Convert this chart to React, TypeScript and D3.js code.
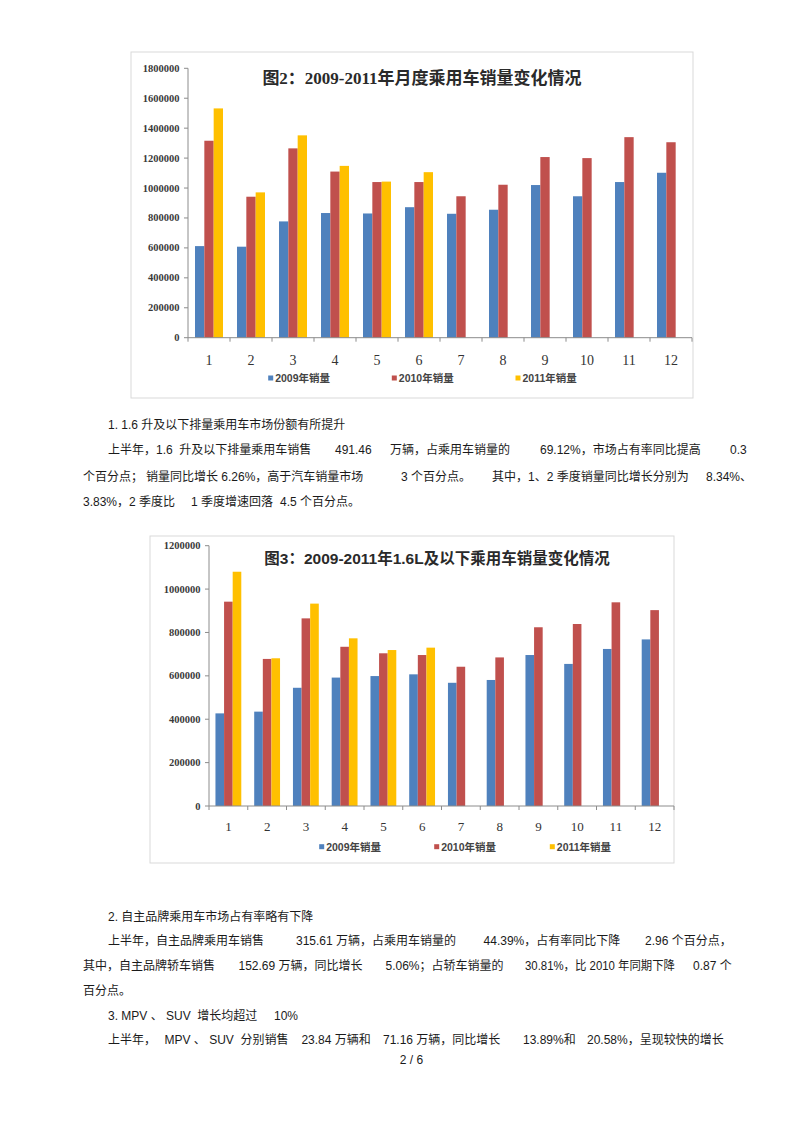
import React from 'react';
import * as d3 from 'd3';

// ---------- data ----------
const months = ['1', '2', '3', '4', '5', '6', '7', '8', '9', '10', '11', '12'];
const seriesNames = ['2009年销量', '2010年销量', '2011年销量'];
const seriesColors = ['#4F81BD', '#C0504D', '#FFC000'];

// 图2：月度乘用车销量
const total2009 = [612000, 608000, 777000, 833000, 830000, 872000, 828000, 855000, 1020000, 945000, 1040000, 1102000];
const total2010 = [1316000, 942000, 1265000, 1110000, 1040000, 1040000, 945000, 1022000, 1207000, 1200000, 1340000, 1306000];
const total2011 = [1532000, 971000, 1352000, 1148000, 1043000, 1106000];
const totalTicks = [0, 200000, 400000, 600000, 800000, 1000000, 1200000, 1400000, 1600000, 1800000];

// 图3：1.6L及以下乘用车销量
const small2009 = [427000, 435000, 545000, 592000, 599000, 607000, 568000, 581000, 696000, 655000, 724000, 768000];
const small2010 = [942000, 678000, 865000, 734000, 704000, 696000, 642000, 685000, 824000, 839000, 939000, 903000];
const small2011 = [1080000, 681000, 933000, 773000, 719000, 730000];
const smallTicks = [0, 200000, 400000, 600000, 800000, 1000000, 1200000];

const title2 = '图2：2009-2011年月度乘用车销量变化情况';
const title3 = '图3：2009-2011年1.6L及以下乘用车销量变化情况';

// ---------- body text ----------
type Seg = { t: string; x: number; w?: number };
type Line = { y: number; segs: Seg[] };

const para1: Line[] = [
  { y: 425, segs: [{ t: '1. 1.6 升及以下排量乘用车市场份额有所提升', x: 108 }] },
  {
    y: 450,
    segs: [
      { t: '上半年，1.6  升及以下排量乘用车销售', x: 108 },
      { t: '491.46', x: 335 },
      { t: '万辆，占乘用车销量的', x: 390 },
      { t: '69.12%，市场占有率同比提高', x: 540 },
      { t: '0.3', x: 730 },
    ],
  },
  {
    y: 477,
    segs: [
      { t: '个百分点；', x: 83 },
      { t: '销量同比增长 6.26%，高于汽车销量市场', x: 146 },
      { t: '3 个百分点。', x: 401 },
      { t: '其中，1、2 季度销量同比增长分别为', x: 492 },
      { t: '8.34%、', x: 706 },
    ],
  },
  {
    y: 502,
    segs: [
      { t: '3.83%，2 季度比', x: 83 },
      { t: '1 季度增速回落', x: 191 },
      { t: '4.5 个百分点。', x: 280 },
    ],
  },
];

const para2: Line[] = [
  { y: 916.7, segs: [{ t: '2. 自主品牌乘用车市场占有率略有下降', x: 108 }] },
  {
    y: 940.5,
    segs: [
      { t: '上半年，自主品牌乘用车销售', x: 108 },
      { t: '315.61 万辆，占乘用车销量的', x: 296 },
      { t: '44.39%，占有率同比下降', x: 483.6 },
      { t: '2.96 个百分点，', x: 645 },
    ],
  },
  {
    y: 965.5,
    segs: [
      { t: '其中，自主品牌轿车销售', x: 83 },
      { t: '152.69 万辆，同比增长', x: 238.5 },
      { t: '5.06%；占轿车销量的', x: 385.5 },
      { t: '30.81%，比 2010 年同期下降', x: 525, w: 150 },
      { t: '0.87 个', x: 693 },
    ],
  },
  { y: 991, segs: [{ t: '百分点。', x: 83 }] },
  {
    y: 1015.5,
    segs: [
      { t: '3. MPV 、 SUV  增长均超过', x: 108 },
      { t: '10%', x: 274 },
    ],
  },
  {
    y: 1040,
    segs: [
      { t: '上半年，', x: 108 },
      { t: 'MPV 、 SUV  分别销售', x: 164.5 },
      { t: '23.84 万辆和', x: 301.4 },
      { t: '71.16 万辆，同比增长', x: 383 },
      { t: '13.89%和', x: 523 },
      { t: '20.58%，呈现较快的增长', x: 587 },
    ],
  },
];

const bodyFont = "'Liberation Sans', 'Noto Sans CJK SC', sans-serif";

type ChartProps = {
  frame: [number, number, number, number];
  left: number;
  right: number;
  top: number;
  zero: number;
  yMax: number;
  ticks: number[];
  data: number[][];
  title: string;
  titleX: number;
  titleY: number;
  titleFont: string;
  titleSize: number;
  legendXs: number[];
  legendY: number;
  xLabelSize: number;
  xLabelDy: number;
};

function BarChart(p: ChartProps) {
  const x0 = d3
    .scaleBand<string>()
    .domain(months)
    .range([p.left, p.right])
    .paddingInner(1 / 3)
    .paddingOuter(1 / 6);
  const x1 = d3
    .scaleBand<string>()
    .domain(seriesNames)
    .range([0, x0.bandwidth()]);
  const y = d3.scaleLinear().domain([0, p.yMax]).range([p.zero, p.top]);
  const step = x0.step();
  const [fx0, fy0, fx1, fy1] = p.frame;
  return (
    <g>
      <rect x={fx0} y={fy0} width={fx1 - fx0} height={fy1 - fy0} fill="#fff" stroke="#d9d9d9" strokeWidth={1} />
      {/* bars */}
      {p.data.map((vals, si) =>
        vals.map((v, mi) => (
          <rect
            key={`${si}-${mi}`}
            x={(x0(months[mi]) as number) + (x1(seriesNames[si]) as number)}
            y={y(v)}
            width={x1.bandwidth()}
            height={p.zero - y(v)}
            fill={seriesColors[si]}
          />
        ))
      )}
      {/* y axis */}
      <line x1={p.left} x2={p.left} y1={y(p.yMax)} y2={p.zero} stroke="#8c8c8c" strokeWidth={1} />
      {p.ticks.map((t) => (
        <g key={t}>
          <line x1={p.left - 4} x2={p.left} y1={y(t)} y2={y(t)} stroke="#8c8c8c" strokeWidth={1} />
          <text
            x={p.left - 8.5}
            y={y(t)}
            textAnchor="end"
            dominantBaseline="central"
            fontFamily="'Liberation Serif', serif"
            fontWeight="bold"
            fontSize={10.5}
            fill="#3a3a3a"
          >
            {t}
          </text>
        </g>
      ))}
      {/* x axis */}
      <line x1={p.left} x2={p.right} y1={p.zero} y2={p.zero} stroke="#8c8c8c" strokeWidth={1} />
      {d3.range(months.length + 1).map((i) => (
        <line
          key={i}
          x1={p.left + i * step}
          x2={p.left + i * step}
          y1={p.zero}
          y2={p.zero + 4}
          stroke="#8c8c8c"
          strokeWidth={1}
        />
      ))}
      {months.map((m) => (
        <text
          key={m}
          x={(x0(m) as number) + x0.bandwidth() / 2}
          y={p.zero + p.xLabelDy}
          textAnchor="middle"
          dominantBaseline="central"
          fontFamily="'Liberation Serif', serif"
          fontSize={p.xLabelSize}
          fill="#333"
        >
          {m}
        </text>
      ))}
      {/* title */}
      <text
        x={p.titleX}
        y={p.titleY}
        textAnchor="middle"
        dominantBaseline="central"
        fontFamily={p.titleFont}
        fontWeight="bold"
        fontSize={p.titleSize}
        fill="#2a2a2a"
      >
        {p.title}
      </text>
      {/* legend */}
      {seriesNames.map((s, i) => (
        <g key={s}>
          <rect x={p.legendXs[i] - 2.5} y={p.legendY - 2.5} width={5} height={5} fill={seriesColors[i]} />
          <text
            x={p.legendXs[i] + 4.5}
            y={p.legendY}
            dominantBaseline="central"
            fontFamily="'Liberation Sans', 'Noto Sans CJK SC', sans-serif"
            fontWeight="bold"
            fontSize={10.5}
            fill="#444"
          >
            {s}
          </text>
        </g>
      ))}
    </g>
  );
}

function Paragraph({ lines }: { lines: Line[] }) {
  return (
    <g>
      {lines.map((l, li) =>
        l.segs.map((s, si) => (
          <text
            key={`${li}-${si}`}
            x={s.x}
            y={l.y}
            dominantBaseline="central"
            fontFamily={bodyFont}
            fontSize={12}
            fill="#1a1a1a"
            style={{ whiteSpace: 'pre' }}
            {...(s.w ? { textLength: s.w, lengthAdjust: 'spacingAndGlyphs' } : {})}
          >
            {s.t}
          </text>
        ))
      )}
    </g>
  );
}

export default function App() {
  return (
    <div style={{ position: 'absolute', left: 0, top: 0, width: 800, height: 1133, background: '#fff' }}>
      <svg width={800} height={1133} viewBox="0 0 800 1133" style={{ display: 'block' }}>
        <rect x={0} y={0} width={800} height={1133} fill="#fff" />
        <BarChart
          frame={[131, 52, 693, 398]}
          left={188}
          right={692}
          top={68.3}
          zero={337.7}
          yMax={1800000}
          ticks={totalTicks}
          data={[total2009, total2010, total2011]}
          title={title2}
          titleX={422}
          titleY={78}
          titleFont="'Liberation Serif', 'Noto Sans CJK SC', serif"
          titleSize={17}
          legendXs={[270.7, 394.3, 518]}
          legendY={378}
          xLabelSize={14}
          xLabelDy={22.3}
        />
        <Paragraph lines={para1} />
        <BarChart
          frame={[150, 536, 674, 863]}
          left={209}
          right={674}
          top={545.7}
          zero={806}
          yMax={1200000}
          ticks={smallTicks}
          data={[small2009, small2010, small2011]}
          title={title3}
          titleX={437}
          titleY={558}
          titleFont="'Liberation Sans', 'Noto Sans CJK SC', sans-serif"
          titleSize={15.5}
          legendXs={[321.7, 436.7, 552.3]}
          legendY={846.7}
          xLabelSize={13}
          xLabelDy={20.7}
        />
        <Paragraph lines={para2} />
        <text
          x={411.5}
          y={1060}
          textAnchor="middle"
          dominantBaseline="central"
          fontFamily={bodyFont}
          fontSize={12}
          fill="#1a1a1a"
        >
          2 / 6
        </text>
      </svg>
    </div>
  );
}
